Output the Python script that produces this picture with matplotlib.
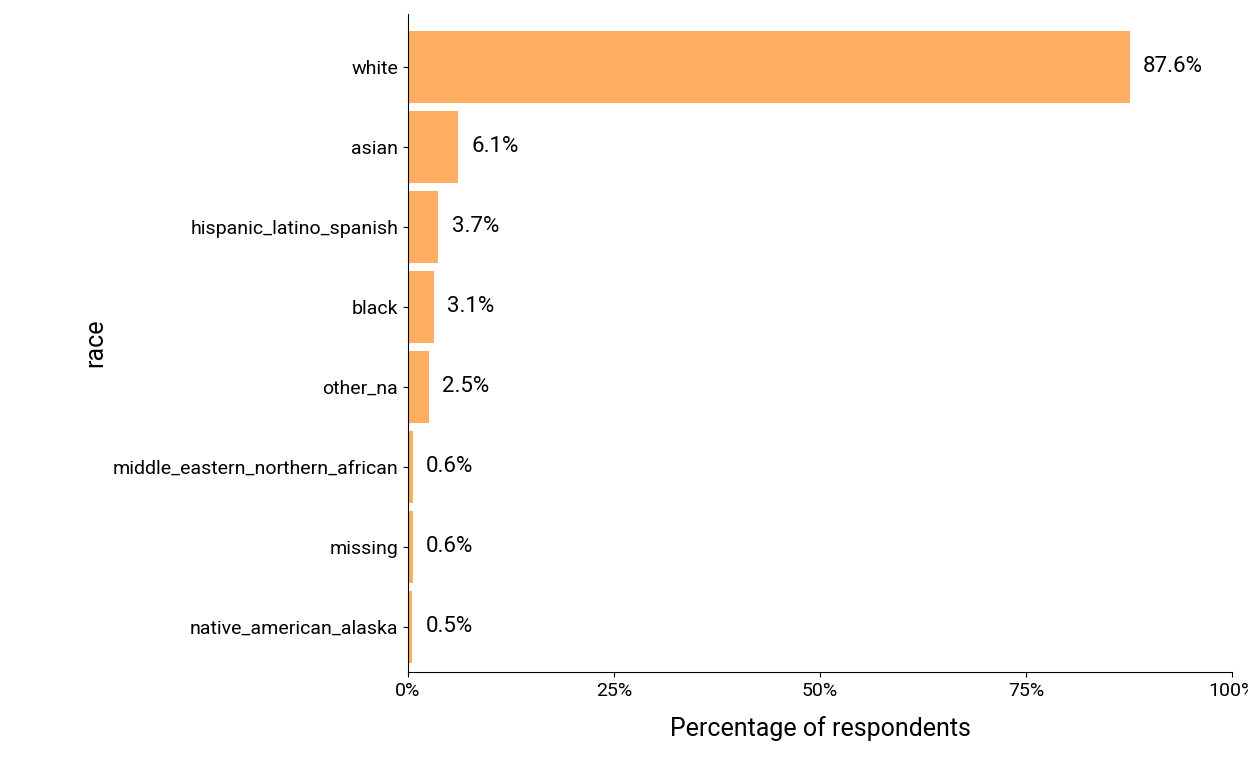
import matplotlib
matplotlib.use("Agg")
import matplotlib.pyplot as plt
from matplotlib.ticker import FuncFormatter

categories = ["white", "asian", "hispanic_latino_spanish", "black", "other_na",
              "middle_eastern_northern_african", "missing", "native_american_alaska"]
values = [87.6, 6.1, 3.7, 3.1, 2.5, 0.6, 0.6, 0.5]

plt.rcParams['font.family'] = ['Roboto', 'DejaVu Sans']
fig = plt.figure(figsize=(12.48, 7.68), dpi=100)
ax = fig.add_axes([408/1248, 1-672/768, (1232-408)/1248, (672-14)/768])
y = list(range(len(categories)))
ax.barh(y, values, height=0.9, color="#FDAE61")
for yi, v in zip(y, values):
    ax.text(v + 1.6, yi, f"{v:.1f}%", va="center", ha="left", fontsize=16)
ax.set_yticks(y)
ax.set_yticklabels(categories, fontsize=14)
ax.set_ylim(7.5625, -0.6625)
ax.set_xlim(0, 100)
ax.set_xticks([0, 25, 50, 75, 100])
ax.xaxis.set_major_formatter(FuncFormatter(lambda v, p: f"{v:.0f}%"))
ax.tick_params(axis="x", labelsize=14)
for lab in ax.get_xticklabels():
    lab.set_clip_on(False)
ax.set_xlabel("Percentage of respondents", fontsize=18, labelpad=12)
ax.set_ylabel("race", fontsize=18)
ax.spines["top"].set_visible(False)
ax.spines["right"].set_visible(False)
fig.savefig("out.png", dpi=100)
